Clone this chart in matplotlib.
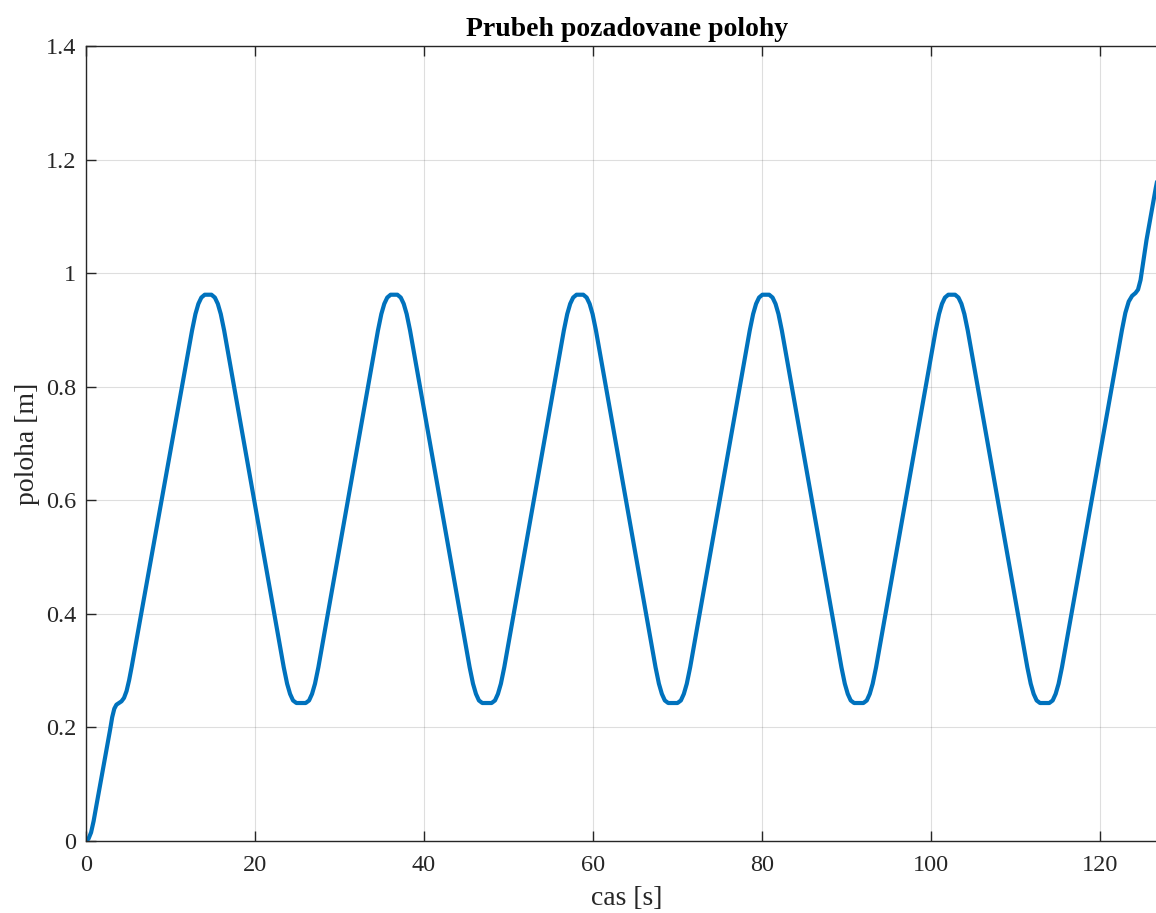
import matplotlib
matplotlib.use("Agg")
import matplotlib.pyplot as plt

# Time samples [s]
cas = [
    0.0, 0.3, 0.6, 0.9, 1.2, 2.84, 3.1, 3.35, 3.6, 3.9, 4.2, 4.5, 4.8, 5.1, 5.41,
    12.55, 12.95, 13.3, 13.65, 14.05, 14.85, 15.25, 15.6, 15.95, 16.35,
    23.4, 23.8, 24.15, 24.5, 24.9, 26.0, 26.4, 26.75, 27.1, 27.5,
    34.55, 34.95, 35.3, 35.65, 36.05, 36.85, 37.25, 37.6, 37.95, 38.35,
    45.4, 45.8, 46.15, 46.5, 46.9, 48.0, 48.4, 48.75, 49.1, 49.5,
    56.55, 56.95, 57.3, 57.65, 58.05, 58.85, 59.25, 59.6, 59.95, 60.35,
    67.4, 67.8, 68.15, 68.5, 68.9, 70.0, 70.4, 70.75, 71.1, 71.5,
    78.55, 78.95, 79.3, 79.65, 80.05, 80.85, 81.25, 81.6, 81.95, 82.35,
    89.4, 89.8, 90.15, 90.5, 90.9, 92.0, 92.4, 92.75, 93.1, 93.5,
    100.55, 100.95, 101.3, 101.65, 102.05, 102.85, 103.25, 103.6, 103.95, 104.35,
    111.4, 111.8, 112.15, 112.5, 112.9, 114.0, 114.4, 114.75, 115.1, 115.5,
    122.6, 123.0, 123.4, 123.8, 124.2, 124.5, 124.8, 125.1, 125.5, 126.6, 127.2,
]

# Position values [m]
poloha = [
    0.0, 0.004, 0.015, 0.035, 0.060, 0.195, 0.218, 0.233, 0.240, 0.243, 0.246, 0.252, 0.264, 0.283, 0.307,
    0.899, 0.928, 0.946, 0.957, 0.962, 0.962, 0.957, 0.946, 0.928, 0.899,
    0.306, 0.277, 0.259, 0.2475, 0.243, 0.243, 0.2475, 0.259, 0.277, 0.306,
    0.899, 0.928, 0.946, 0.957, 0.962, 0.962, 0.957, 0.946, 0.928, 0.899,
    0.306, 0.277, 0.259, 0.2475, 0.243, 0.243, 0.2475, 0.259, 0.277, 0.306,
    0.899, 0.928, 0.946, 0.957, 0.962, 0.962, 0.957, 0.946, 0.928, 0.899,
    0.306, 0.277, 0.259, 0.2475, 0.243, 0.243, 0.2475, 0.259, 0.277, 0.306,
    0.899, 0.928, 0.946, 0.957, 0.962, 0.962, 0.957, 0.946, 0.928, 0.899,
    0.306, 0.277, 0.259, 0.2475, 0.243, 0.243, 0.2475, 0.259, 0.277, 0.306,
    0.899, 0.928, 0.946, 0.957, 0.962, 0.962, 0.957, 0.946, 0.928, 0.899,
    0.306, 0.277, 0.259, 0.2475, 0.243, 0.243, 0.2475, 0.259, 0.277, 0.306,
    0.900, 0.930, 0.950, 0.960, 0.965, 0.971, 0.988, 1.018, 1.058, 1.150, 1.195,
]

xticks = [0, 20, 40, 60, 80, 100, 120]
yticks = [0, 0.2, 0.4, 0.6, 0.8, 1.0, 1.2, 1.4]
ytick_labels = ["0", "0.2", "0.4", "0.6", "0.8", "1", "1.2", "1.4"]

plt.rcParams["font.family"] = ["Liberation Serif", "DejaVu Serif"]
ink = "#262626"

W, H = 1156, 913
fig = plt.figure(figsize=(W / 100, H / 100), dpi=100)
x_left, x_right = 86, 1167.6
y_top, y_bot = 46, 841
ax = fig.add_axes([x_left / W, (H - y_bot) / H, (x_right - x_left) / W, (y_bot - y_top) / H])

ax.plot(cas, poloha, color="#0072BD", lw=3.0, solid_joinstyle="round", solid_capstyle="round")

ax.set_xlim(0, 128)
ax.set_ylim(0, 1.4)
ax.set_xticks(xticks)
ax.set_yticks(yticks)
ax.set_yticklabels(ytick_labels)

ax.grid(True, color=ink, alpha=0.15, lw=0.8)
ax.set_axisbelow(True)

for s in ax.spines.values():
    s.set_color(ink)
    s.set_linewidth(1.0)

ax.tick_params(direction="in", length=7.5, width=1.0, colors=ink, labelsize=17.5,
               top=True, right=True)
ax.tick_params(axis="x", pad=10)
ax.tick_params(axis="y", pad=7)

ax.set_title("Prubeh pozadovane polohy", fontsize=20, fontweight="bold", color="black", pad=7)
ax.set_xlabel("cas [s]", fontsize=20, color=ink, labelpad=7)
ax.set_ylabel("poloha [m]", fontsize=20, color=ink, labelpad=4)

fig.savefig("out.png", dpi=100)
